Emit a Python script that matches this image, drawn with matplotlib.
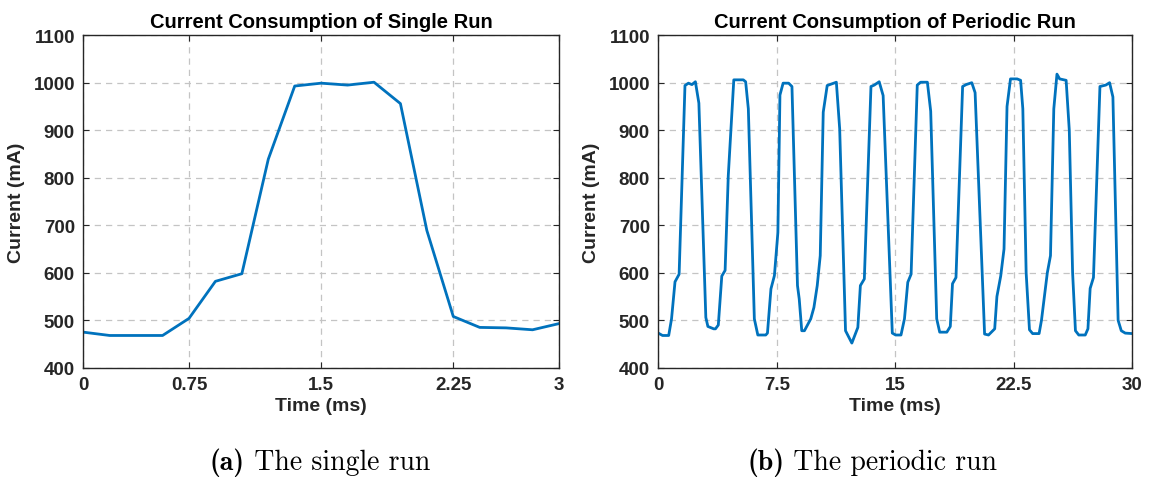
import numpy as np
import matplotlib.pyplot as plt

# single run: 19 samples, x axis labelled in ms
single_current = [475, 468, 468, 468, 504, 582, 598, 839, 993, 999,
                  995, 1001, 956, 689, 508, 485, 484, 480, 493]
single_ticks = [0, 4, 9, 14, 18]
single_labels = ["0", "0.75", "1.5", "2.25", "3"]

# periodic run (ms, mA)
periodic_time = [0.0, 0.27, 0.66, 0.84, 1.06, 1.32, 1.69, 1.91, 2.13, 2.35,
                 2.57, 3.01, 3.14, 3.51, 3.62, 3.80, 4.02, 4.23, 4.43, 4.78,
                 5.38, 5.53, 5.70, 6.08, 6.30, 6.80, 6.91, 7.13, 7.35, 7.57,
                 7.70, 7.90, 8.25, 8.46, 8.81, 8.92, 9.08, 9.25, 9.65, 9.85,
                 10.06, 10.25, 10.44, 10.69, 11.27, 11.48, 11.85, 12.25, 12.63, 12.79,
                 13.04, 13.46, 13.67, 13.98, 14.23, 14.81, 15.02, 15.36, 15.58, 15.79,
                 16.00, 16.39, 16.60, 17.03, 17.24, 17.62, 17.81, 18.26, 18.48, 18.62,
                 18.84, 19.26, 19.48, 19.84, 20.05, 20.65, 20.90, 21.29, 21.43, 21.67,
                 21.88, 22.07, 22.29, 22.71, 22.93, 23.07, 23.28, 23.49, 23.69, 24.10,
                 24.25, 24.62, 24.82, 25.03, 25.23, 25.40, 25.81, 26.01, 26.22, 26.40,
                 26.61, 27.02, 27.19, 27.33, 27.54, 27.95, 28.32, 28.56, 28.77, 29.10,
                 29.30, 29.55, 30.0]
periodic_current = [473, 468, 468, 503, 581, 597, 994, 999, 996, 1002,
                    957, 506, 487, 482, 482, 490, 593, 605, 804, 1006,
                    1006, 1002, 945, 503, 469, 469, 473, 566, 594, 685,
                    974, 999, 999, 992, 573, 545, 478, 478, 503, 527,
                    573, 636, 938, 994, 1001, 903, 478, 452, 485, 573,
                    587, 992, 995, 1002, 973, 473, 469, 469, 503, 580,
                    597, 995, 1001, 1001, 940, 503, 475, 475, 487, 577,
                    590, 992, 996, 1000, 979, 471, 469, 482, 550, 593,
                    650, 950, 1008, 1008, 1005, 945, 600, 480, 472, 472,
                    500, 600, 636, 945, 1018, 1008, 1005, 900, 600, 478,
                    469, 469, 482, 567, 590, 992, 995, 1000, 970, 500,
                    478, 473, 472]
periodic_ticks = [0, 7.5, 15, 22.5, 30]
periodic_labels = ["0", "7.5", "15", "22.5", "30"]

captions = [("(a)", " The single run"), ("(b)", " The periodic run")]

blue = "#0072BD"
dark = "#262626"
tick_font = dict(family="Liberation Sans", weight="bold", size=13.5)

fig = plt.figure(figsize=(11.49, 4.85), dpi=100)
ax1 = fig.add_axes([0.0725, 0.2396, 0.414, 0.6858])
ax2 = fig.add_axes([0.5729, 0.2396, 0.4126, 0.6858])


def style(ax, title):
    ax.set_ylim(400, 1100)
    ax.set_yticks(range(400, 1101, 100))
    ax.grid(True, linestyle=(0, (5, 4)), color="#c4c4c4", linewidth=0.9)
    ax.set_axisbelow(True)
    ax.tick_params(direction="in", length=4, width=0.8, colors=dark,
                   top=True, right=True, pad=6)
    for lab in ax.get_xticklabels() + ax.get_yticklabels():
        lab.set_fontproperties(tick_font)
    for sp in ax.spines.values():
        sp.set_color(dark)
        sp.set_linewidth(1.0)
    ax.set_title(title, fontfamily="Liberation Sans", fontweight="bold",
                 fontsize=14.5, color="black", pad=6)
    ax.set_xlabel("Time (ms)", fontfamily="Liberation Sans", fontweight="bold",
                  fontsize=14, color=dark, labelpad=3)
    ax.set_ylabel("Current (mA)", fontfamily="Liberation Sans", fontweight="bold",
                  fontsize=14, color=dark, labelpad=6)


ax1.plot(np.arange(len(single_current)), single_current, color=blue, linewidth=2)
ax1.set_xlim(0, len(single_current) - 1)
ax1.set_xticks(single_ticks)
ax1.set_xticklabels(single_labels)
style(ax1, "Current Consumption of Single Run")

ax2.plot(periodic_time, periodic_current, color=blue, linewidth=2)
ax2.set_xlim(0, 30)
ax2.set_xticks(periodic_ticks)
ax2.set_xticklabels(periodic_labels)
style(ax2, "Current Consumption of Periodic Run")

# sub captions: bold label + roman text, centred as a group
renderer = fig.canvas.get_renderer()
W = 1149
y_cap = 1 - 463 / 485
for (lab, txt), xc in zip(captions, [320, 872]):
    t1 = fig.text(0, y_cap, lab, fontfamily="cmb10", fontsize=20, va="center")
    t2 = fig.text(0, y_cap, txt, fontfamily="cmr10", fontsize=20, va="center")
    w1 = t1.get_window_extent(renderer).width
    w2 = t2.get_window_extent(renderer).width
    x0 = xc - (w1 + w2) / 2
    t1.set_x(x0 / W)
    t2.set_x((x0 + w1) / W)

fig.savefig("out.png", dpi=100)
